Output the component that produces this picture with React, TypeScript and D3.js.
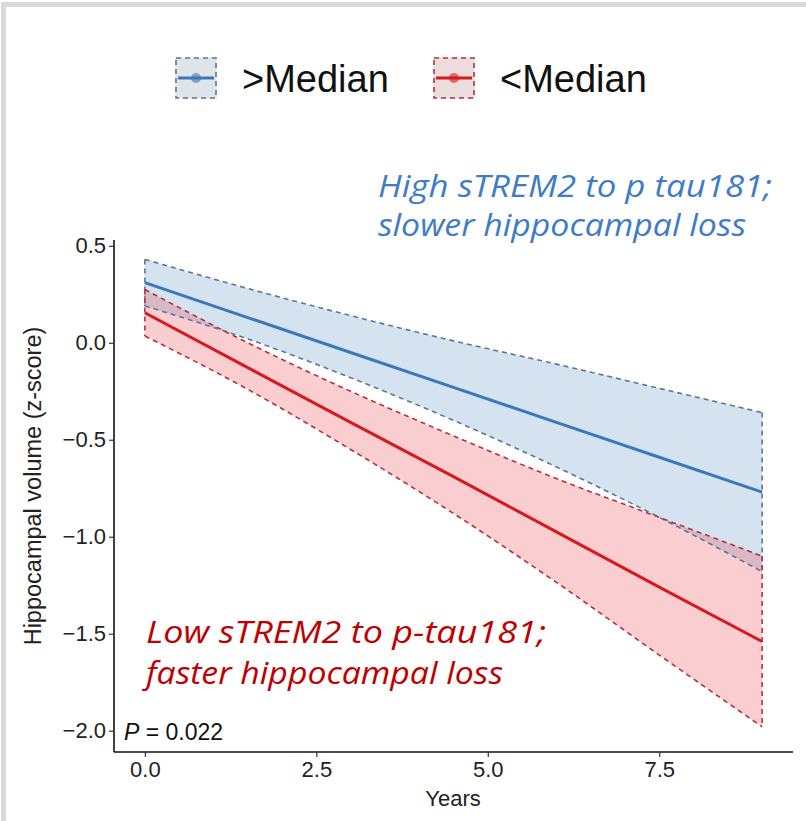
import React from "react";
import { scaleLinear, line, area, axisLeft, axisBottom, select, curveMonotoneX } from "d3";

// years at which the fitted curves / ribbons are read
const years = [0, 1.5, 3, 4.5, 6, 7.5, 9];

// >Median group (blue)
const highFit = [0.31, 0.13, -0.05, -0.23, -0.41, -0.59, -0.77];
const highUpper = [0.43, 0.28, 0.14, 0.01, -0.11, -0.235, -0.36];
const highLower = [0.19, 0.02, -0.18, -0.4, -0.64, -0.9, -1.18];

// <Median group (red)
const lowFit = [0.155, -0.128, -0.41, -0.69, -0.975, -1.26, -1.54];
const lowUpper = [0.275, 0.0, -0.25, -0.48, -0.7, -0.9, -1.1];
const lowLower = [0.035, -0.24, -0.55, -0.88, -1.235, -1.61, -1.98];

const xTicks = [0, 2.5, 5, 7.5];
const yTicks = [0.5, 0, -0.5, -1, -1.5, -2];
const legendLabels = [">Median", "<Median"];

const W = 806;
const H = 821;
const left = 114;
const right = 793;
const top = 240;
const bottom = 752;

const BLUE = "#3b78b8";
const RED = "#d7191c";

interface Row {
  t: number;
  fit: number;
  lo: number;
  hi: number;
}

const rows = (fit: number[], lo: number[], hi: number[]): Row[] =>
  years.map((t, i) => ({ t, fit: fit[i], lo: lo[i], hi: hi[i] }));

const App: React.FC = () => {
  const x = scaleLinear().domain([-0.45, 9.45]).range([left, right]);
  const y = scaleLinear().domain([-2.11, 0.53]).range([bottom, top]);

  const groups = [
    { key: "high", data: rows(highFit, highLower, highUpper), col: BLUE, fill: "#3f7fbf", dash: "#5a7896" },
    { key: "low", data: rows(lowFit, lowLower, lowUpper), col: RED, fill: "#e8202a", dash: "#b8303e" },
  ];

  const band = area<Row>()
    .curve(curveMonotoneX)
    .x((d) => x(d.t))
    .y0((d) => y(d.lo))
    .y1((d) => y(d.hi));
  const fitLine = line<Row>()
    .x((d) => x(d.t))
    .y((d) => y(d.fit));
  const hiLine = line<Row>()
    .curve(curveMonotoneX)
    .x((d) => x(d.t))
    .y((d) => y(d.hi));
  const loLine = line<Row>()
    .curve(curveMonotoneX)
    .x((d) => x(d.t))
    .y((d) => y(d.lo));

  const font = "Liberation Sans, Arial, sans-serif";
  const noteFont = "Open Sans, Noto Sans, sans-serif";

  const styleAxis = (s: any) => {
    s.selectAll(".tick line").attr("stroke", "#333").attr("stroke-width", 1.2);
    s.selectAll(".tick text").attr("font-size", 22).attr("font-family", font).attr("fill", "#222");
  };

  const yAxisRef = (g: SVGGElement | null) => {
    if (!g) return;
    const s = select(g);
    s.selectAll("*").remove();
    s.call(
      axisLeft(y)
        .tickValues(yTicks)
        .tickSize(5)
        .tickPadding(3)
        .tickFormat((d) => {
          const v = d as number;
          return (v < 0 ? "\u2212" : "") + Math.abs(v).toFixed(1);
        })
    );
    s.select(".domain").attr("d", `M0,${top}V${bottom}`).attr("stroke", "#111").attr("stroke-width", 1.6);
    styleAxis(s);
  };

  const xAxisRef = (g: SVGGElement | null) => {
    if (!g) return;
    const s = select(g);
    s.selectAll("*").remove();
    s.call(
      axisBottom(x)
        .tickValues(xTicks)
        .tickSize(5)
        .tickPadding(4)
        .tickFormat((d) => (d as number).toFixed(1))
    );
    s.select(".domain").attr("d", `M${left},0H${right}`).attr("stroke", "#111").attr("stroke-width", 1.6);
    styleAxis(s);
  };

  return (
    <svg
      width={W}
      height={H}
      style={{ position: "absolute", left: 0, top: 0, background: "#fff" }}
    >
      {/* frame */}
      <rect x={1} y={2} width={W} height={5} fill="#d9d9d9" />
      <rect x={1} y={2} width={5} height={H} fill="#d9d9d9" />

      {/* legend */}
      {groups.map((g, i) => {
        const kx = i === 0 ? 175 : 433;
        const ky = 57;
        return (
          <g key={g.key}>
            <rect x={kx} y={ky} width={42} height={42} fill="#ececec" />
            <rect
              x={kx + 1}
              y={ky + 1}
              width={40}
              height={40}
              fill={g.fill}
              fillOpacity={0.07}
              stroke={g.dash}
              strokeWidth={1.6}
              strokeDasharray="5,4"
            />
            <line x1={kx + 3} x2={kx + 39} y1={ky + 21} y2={ky + 21} stroke={g.col} strokeWidth={3} />
            <circle cx={kx + 21} cy={ky + 21} r={5} fill={g.col} fillOpacity={0.6} />
            <text x={kx + 67} y={ky + 35} fontSize={38} fontFamily={font} fill="#111">
              {legendLabels[i]}
            </text>
          </g>
        );
      })}

      {/* ribbons */}
      {groups.map((g) => (
        <path key={g.key + "-band"} d={band(g.data) ?? ""} fill={g.fill} fillOpacity={0.22} />
      ))}
      {groups.map((g) => {
        const first = g.data[0];
        const last = g.data[g.data.length - 1];
        return (
          <g key={g.key + "-edges"} fill="none" stroke={g.dash} strokeWidth={1.6} strokeDasharray="5,4">
            <path d={hiLine(g.data) ?? ""} />
            <path d={loLine(g.data) ?? ""} />
            <line x1={x(first.t)} x2={x(first.t)} y1={y(first.hi)} y2={y(first.lo)} />
            <line x1={x(last.t)} x2={x(last.t)} y1={y(last.hi)} y2={y(last.lo)} />
          </g>
        );
      })}
      {groups.map((g) => (
        <path key={g.key + "-fit"} d={fitLine(g.data) ?? ""} fill="none" stroke={g.col} strokeWidth={3} />
      ))}

      {/* axes */}
      <g ref={yAxisRef} transform={`translate(${left},0)`} />
      <g ref={xAxisRef} transform={`translate(0,${bottom})`} />

      <text
        transform={`translate(41,486) rotate(-90)`}
        textAnchor="middle"
        fontSize={23.5}
        fontFamily={font}
        fill="#222"
      >
        Hippocampal volume (z-score)
      </text>
      <text x={453} y={806} textAnchor="middle" fontSize={22} fontFamily={font} fill="#222">
        Years
      </text>

      <text x={124} y={740} fontSize={23} fontFamily={font} fill="#111">
        <tspan fontStyle="italic">P</tspan>
        <tspan> = 0.022</tspan>
      </text>

      {/* annotations */}
      <g fontFamily={noteFont} fontStyle="italic" fontSize={31} fill="#3f7cc8">
        <text x={378} y={197} textLength={394} lengthAdjust="spacingAndGlyphs">
          High sTREM2  to p tau181;
        </text>
        <text x={378} y={236} textLength={368} lengthAdjust="spacingAndGlyphs">
          slower hippocampal loss
        </text>
      </g>
      <g fontFamily={noteFont} fontStyle="italic" fontSize={31} fill="#c00000">
        <text x={146} y={643} textLength={400} lengthAdjust="spacingAndGlyphs">
          Low sTREM2 to  p-tau181;
        </text>
        <text x={146} y={684} textLength={357} lengthAdjust="spacingAndGlyphs">
          faster hippocampal loss
        </text>
      </g>
    </svg>
  );
};

export default App;
